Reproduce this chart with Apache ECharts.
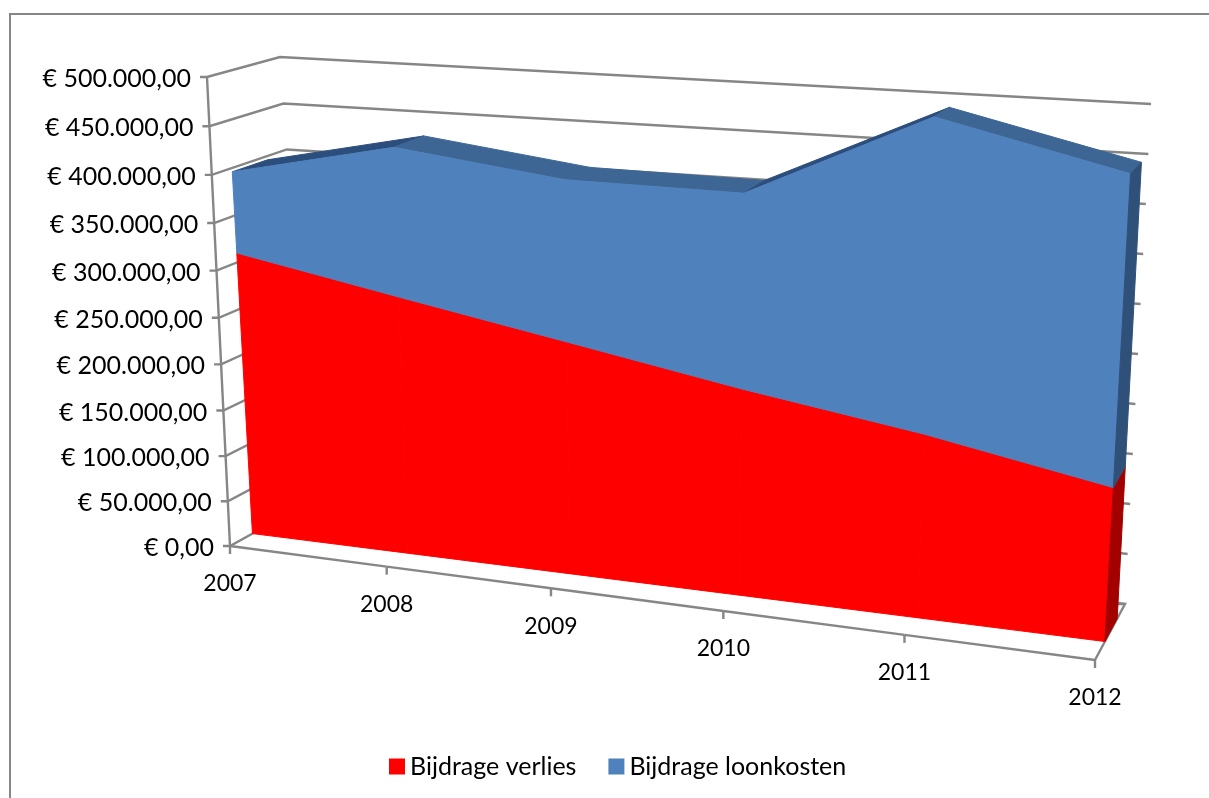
<!DOCTYPE html>
<html lang="nl">

<head>
    <meta charset="UTF-8">
    <title>Bijdrage verlies en loonkosten</title>
    <style>
        html, body { margin: 0; padding: 0; background: #fff; overflow: hidden; }
        #chart { width: 1209px; height: 798px; }
    </style>
</head>

<body>
    <div id="chart"></div>
    <script src="https://cdn.jsdelivr.net/npm/echarts@6/dist/echarts.min.js"></script>
    <script>
        const years = ['2007', '2008', '2009', '2010', '2011', '2012'];
        const bijdrageVerlies = [310000, 277000, 245000, 213000, 185000, 151000];
        const bijdrageLoonkosten = [86000, 155000, 165000, 195000, 307000, 298000];
        const yTicks = [0, 50000, 100000, 150000, 200000, 250000, 300000, 350000, 400000, 450000, 500000];
        const yTickLabels = ['€ 0,00', '€ 50.000,00', '€ 100.000,00', '€ 150.000,00', '€ 200.000,00', '€ 250.000,00',
            '€ 300.000,00', '€ 350.000,00', '€ 400.000,00', '€ 450.000,00', '€ 500.000,00'];

        const totaal = bijdrageVerlies.map((v, i) => v + bijdrageLoonkosten[i]);

        // corners of the 3D box on screen, f = front, b = back, l/r = left/right, 0/1 = floor/top
        const box = {
            fl0: [230, 546], fl1: [207, 77], fr0: [1095, 660], fr1: [1125, 126],
            bl0: [313, 500], bl1: [280, 57], br0: [1125, 604], br1: [1151, 104]
        };
        const wBack = 0.74;

        const warp = (t, k) => t / (1 + k - k * t);
        const mix = (a, b, t) => [a[0] + (b[0] - a[0]) * t, a[1] + (b[1] - a[1]) * t];
        const wFront = (u) => 0.27 + 0.06 * u;

        // u = along the years, v = along the values, w = depth, all 0..1
        function project(u, v, w) {
            const uu = warp(u, 0.13);
            const vv = warp(v, 0.055 * (1 - u * w));
            const front = mix(mix(box.fl0, box.fr0, uu), mix(box.fl1, box.fr1, uu), vv);
            const back = mix(mix(box.bl0, box.br0, uu), mix(box.bl1, box.br1, uu), vv);
            return mix(front, back, w);
        }

        function toUnit(api, params, idx, val) {
            const p = api.coord([idx, val]);
            const c = params.coordSys;
            return [(p[0] - c.x) / c.width, (c.y + c.height - p[1]) / c.height];
        }

        function face(points, color) {
            return {
                type: 'polygon',
                shape: { points: points },
                style: { fill: color, stroke: color, lineWidth: 1 }
            };
        }

        function line(points) {
            return {
                type: 'polyline',
                shape: { points: points },
                style: { fill: null, stroke: '#868686', lineWidth: 2.4 }
            };
        }

        function areaItem(lower, upper, colors) {
            return function (params, api) {
                const i = api.value(0);
                const children = [];
                const a0 = toUnit(api, params, i, lower[i]);
                const a1 = toUnit(api, params, i, upper[i]);
                if (i < years.length - 1) {
                    const b0 = toUnit(api, params, i + 1, lower[i + 1]);
                    const b1 = toUnit(api, params, i + 1, upper[i + 1]);
                    const pa = project(a1[0], a1[1], wFront(a1[0]));
                    const pb = project(b1[0], b1[1], wFront(b1[0]));
                    if (colors.top) {
                        children.push(face([pa, pb, project(b1[0], b1[1], wBack), project(a1[0], a1[1], wBack)],
                            pb[1] < pa[1] ? colors.rising : colors.top));
                    }
                    children.push(face([project(a0[0], a0[1], wFront(a0[0])), project(b0[0], b0[1], wFront(b0[0])), pb, pa], colors.front));
                } else {
                    children.push(face([
                        project(a0[0], a0[1], wFront(a0[0])), project(a0[0], a0[1], wBack),
                        project(a1[0], a1[1], wBack), project(a1[0], a1[1], wFront(a1[0]))
                    ], colors.side));
                }
                return { type: 'group', children: children };
            };
        }

        // gridlines, axis lines, ticks and labels for one value of yTicks
        function frameItem(params, api) {
            const i = api.value(0);
            const val = yTicks[i];
            const children = [];
            const s = toUnit(api, params, 0, val);
            const e = toUnit(api, params, years.length - 1, val);
            const pf = project(0, s[1], 0);
            children.push(line([[pf[0] - 7, pf[1]], pf, project(0, s[1], 1), project(1, e[1], 1)]));
            if (i < yTicks.length - 1) {
                const n = toUnit(api, params, 0, yTicks[i + 1]);
                children.push(line([pf, project(0, n[1], 0)]));
            }
            children.push({
                type: 'text',
                style: {
                    text: yTickLabels[i], x: pf[0] - 16, y: pf[1] + 2,
                    align: 'right', verticalAlign: 'middle',
                    font: '25px Lato', fill: '#000'
                }
            });
            return { type: 'group', children: children };
        }

        function floorItem(params, api) {
            const i = api.value(0);
            const children = [];
            const p = toUnit(api, params, i, 0);
            const pf = project(p[0], 0, 0);
            children.push(line([pf, [pf[0], pf[1] + 8]]));
            if (i < years.length - 1) {
                const n = toUnit(api, params, i + 1, 0);
                children.push(line([pf, project(n[0], 0, 0)]));
            } else {
                children.push(line([pf, project(1, 0, 1), [project(1, 0, 1)[0] - 8, project(1, 0, 1)[1]]]));
            }
            children.push({
                type: 'text',
                style: {
                    text: years[i], x: pf[0], y: pf[1] + 38,
                    align: 'center', verticalAlign: 'middle',
                    font: '23px Lato', fill: '#000'
                }
            });
            return { type: 'group', children: children };
        }

        const chart = echarts.init(document.getElementById('chart'));

        chart.setOption({
            animation: false,
            graphic: [{
                type: 'rect',
                silent: true,
                shape: { x: 10, y: 14, width: 1400, height: 1000 },
                style: { fill: null, stroke: '#868686', lineWidth: 2 }
            }],
            legend: {
                data: ['Bijdrage verlies', 'Bijdrage loonkosten'],
                left: 384,
                top: 749,
                icon: 'rect',
                itemWidth: 16,
                itemHeight: 16,
                itemGap: 32,
                selectedMode: false,
                textStyle: { fontFamily: 'Lato', fontSize: 25, color: '#000' }
            },
            grid: { left: 100, right: 100, top: 100, bottom: 100 },
            xAxis: { type: 'category', boundaryGap: false, data: years, show: false },
            yAxis: { type: 'value', min: 0, max: 500000, interval: 50000, show: false },
            series: [
                {
                    type: 'custom',
                    name: 'assen',
                    silent: true,
                    renderItem: frameItem,
                    data: yTicks.map((v, i) => [i, v]),
                    encode: { x: -1, y: -1 },
                    z: 1
                },
                {
                    type: 'custom',
                    name: 'vloer',
                    silent: true,
                    renderItem: floorItem,
                    data: years.map((y, i) => [i, 0]),
                    encode: { x: 0, y: 1 },
                    z: 1
                },
                {
                    type: 'custom',
                    name: 'Bijdrage verlies',
                    silent: true,
                    renderItem: areaItem(years.map(() => 0), bijdrageVerlies, {
                        front: '#ff0000', side: '#a30000'
                    }),
                    itemStyle: { color: '#ff0000' },
                    data: years.map((y, i) => [i, bijdrageVerlies[i]]),
                    encode: { x: 0, y: 1 },
                    z: 2
                },
                {
                    type: 'custom',
                    name: 'Bijdrage loonkosten',
                    silent: true,
                    renderItem: areaItem(bijdrageVerlies, totaal, {
                        front: '#4f81bd', side: '#2f5079', top: '#3e6695', rising: '#2c4e7c'
                    }),
                    itemStyle: { color: '#4f81bd' },
                    data: years.map((y, i) => [i, totaal[i]]),
                    encode: { x: 0, y: 1 },
                    z: 2
                }
            ]
        });
    </script>
</body>

</html>
